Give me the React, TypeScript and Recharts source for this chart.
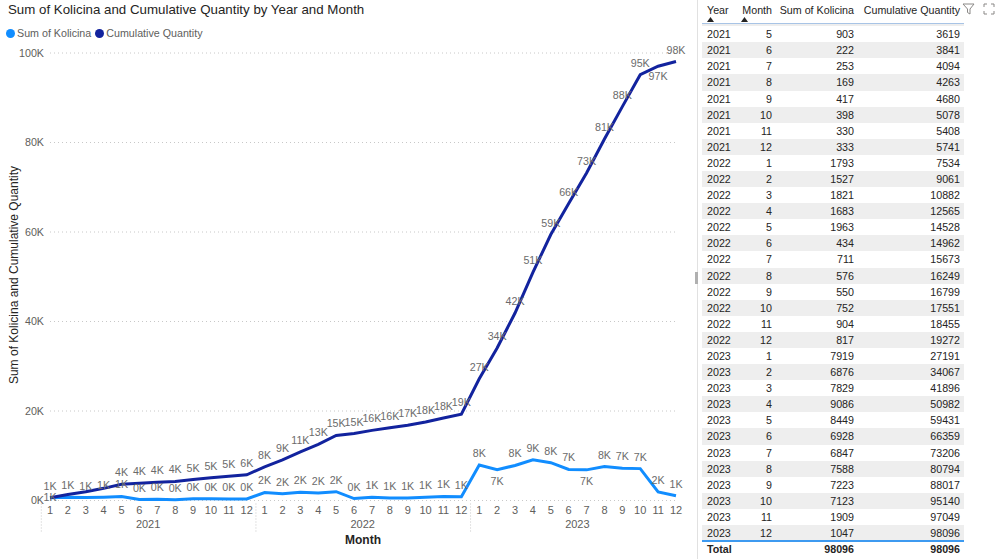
import { CartesianGrid, LabelList, Line, LineChart, XAxis, YAxis } from "recharts";

const years = [2021, 2022, 2023];
const monthNumbers = [1, 2, 3, 4, 5, 6, 7, 8, 9, 10, 11, 12];

const kolicina2021 = [620, 700, 650, 746, 903, 222, 253, 169, 417, 398, 330, 333];
const kolicina2022 = [1793, 1527, 1821, 1683, 1963, 434, 711, 576, 550, 752, 904, 817];
const kolicina2023 = [7919, 6876, 7829, 9086, 8449, 6928, 6847, 7588, 7223, 7123, 1909, 1047];

const cumulative2021 = [620, 1320, 1970, 2716, 3619, 3841, 4094, 4263, 4680, 5078, 5408, 5741];
const cumulative2022 = [7534, 9061, 10882, 12565, 14528, 14962, 15673, 16249, 16799, 17551, 18455, 19272];
const cumulative2023 = [27191, 34067, 41896, 50982, 59431, 66359, 73206, 80794, 88017, 95140, 97049, 98096];

const totalKolicina = 98096;
const totalCumulative = 98096;

const yTicks = [0, 20000, 40000, 60000, 80000, 100000];

// which data labels Power BI pushed below / hid because of collisions
const hiddenCumLabels = ["2021-2", "2021-3", "2021-4"];
const cumLabelsBelow = ["2023-11"];
const sumLabelsBelow = ["2023-2", "2023-7"];
const sumLabelsOnPoint = ["2021-1"];

// the table is scrolled: first visible row is 2021-5
const FIRST_TABLE_ROW = 4;

const SUM_COLOR = "#118DFF";
const CUM_COLOR = "#12239E";
const FONT = "'Segoe UI', 'Liberation Sans', Arial, sans-serif";
const SMALL = 10.7;

const CHART_W = 690;
const CHART_H = 559;
const PLOT_LEFT = 50;
const PLOT_RIGHT = 14;
const BAND = (CHART_W - PLOT_LEFT - PLOT_RIGHT) / 36;

const kolicinaByYear = [kolicina2021, kolicina2022, kolicina2023];
const cumulativeByYear = [cumulative2021, cumulative2022, cumulative2023];

const data = years.flatMap((year, yi) =>
  monthNumbers.map((month, mi) => ({
    key: `${year}-${month}`,
    year,
    month,
    kolicina: kolicinaByYear[yi][mi],
    cumulative: cumulativeByYear[yi][mi],
  })),
);

const fmtK = (v: number) => `${Math.round(v / 1000)}K`;

const makeLabel =
  (series: "sum" | "cum") =>
  (props: any) => {
    const { x, y, value, index } = props;
    const key = data[index]?.key;
    if (series === "cum" && hiddenCumLabels.includes(key)) return null;
    let ty = y - 8;
    if (series === "cum" && cumLabelsBelow.includes(key)) ty = y + 14;
    if (series === "sum" && sumLabelsBelow.includes(key)) ty = y + 15;
    if (series === "sum" && sumLabelsOnPoint.includes(key)) ty = y + 3;
    return (
      <text x={x} y={ty} textAnchor="middle" fontSize={SMALL} fill="#6b6b6b">
        {fmtK(value)}
      </text>
    );
  };

const MonthTick = (props: any) => {
  const { x, y, payload } = props;
  const [year, month] = String(payload.value).split("-").map(Number);
  return (
    <g>
      <text x={x} y={y + 13} textAnchor="middle" fontSize={11} fill="#605E5C">
        {month}
      </text>
      {month === 6 && (
        <text x={x + BAND / 2} y={y + 27} textAnchor="middle" fontSize={11} fill="#605E5C">
          {year}
        </text>
      )}
      {month === 1 && (
        <line
          x1={x - BAND / 2}
          x2={x - BAND / 2}
          y1={y + 3}
          y2={y + 31}
          stroke="#c8c8c8"
          strokeDasharray="1 2"
        />
      )}
    </g>
  );
};

const tableRows = data.slice(FIRST_TABLE_ROW);

const ROW_H = 16.09;
const ROWS_TOP = 26.2;

const cellStyle = (right: number, left?: number): React.CSSProperties => ({
  position: "absolute",
  ...(left !== undefined ? { left } : { right }),
  top: 0,
  lineHeight: `${ROW_H}px`,
  whiteSpace: "nowrap",
});

const SortArrow = ({ x }: { x: number }) => (
  <svg style={{ position: "absolute", left: x, top: 17 }} width={7} height={5}>
    <polygon points="0,5 3.5,0 7,5" fill="#252423" />
  </svg>
);

const App = () => {
  return (
    <div
      style={{
        position: "absolute",
        left: 0,
        top: 0,
        width: 999,
        height: 559,
        background: "#fff",
        fontFamily: FONT,
        overflow: "hidden",
      }}
    >
      <div style={{ position: "absolute", left: 8, top: 2, fontSize: 13.3, color: "#252423", whiteSpace: "nowrap" }}>
        Sum of Kolicina and Cumulative Quantity by Year and Month
      </div>
      <div
        style={{
          position: "absolute",
          left: 6,
          top: 27,
          fontSize: SMALL,
          color: "#605E5C",
          display: "flex",
          alignItems: "center",
          whiteSpace: "nowrap",
        }}
      >
        <span style={{ width: 9, height: 9, borderRadius: 5, background: SUM_COLOR, marginRight: 2 }} />
        <span style={{ marginRight: 4 }}>Sum of Kolicina</span>
        <span style={{ width: 9, height: 9, borderRadius: 5, background: CUM_COLOR, marginRight: 2 }} />
        <span>Cumulative Quantity</span>
      </div>

      <div style={{ position: "absolute", left: 0, top: 0 }}>
        <LineChart
          width={CHART_W}
          height={CHART_H}
          data={data}
          margin={{ top: 53, right: PLOT_RIGHT, bottom: 0, left: 0 }}
        >
          <CartesianGrid vertical={false} stroke="#c8c8c8" strokeDasharray="1 3" />
          <XAxis
            dataKey="key"
            type="category"
            interval={0}
            tickLine={false}
            axisLine={false}
            tickSize={0}
            tickMargin={0}
            height={58.5}
            tick={<MonthTick />}
          />
          <YAxis
            width={PLOT_LEFT}
            domain={[0, 100000]}
            ticks={yTicks}
            tickFormatter={fmtK}
            tickLine={false}
            axisLine={false}
            tickSize={0}
            tickMargin={6}
            tick={{ fill: "#605E5C", fontSize: SMALL }}
          />
          <Line
            dataKey="kolicina"
            stroke={SUM_COLOR}
            strokeWidth={3}
            dot={false}
            activeDot={false}
            isAnimationActive={false}
          >
            <LabelList dataKey="kolicina" content={makeLabel("sum")} />
          </Line>
          <Line
            dataKey="cumulative"
            stroke={CUM_COLOR}
            strokeWidth={3}
            dot={false}
            activeDot={false}
            isAnimationActive={false}
          >
            <LabelList dataKey="cumulative" content={makeLabel("cum")} />
          </Line>
        </LineChart>
      </div>

      <div
        style={{
          position: "absolute",
          left: 14,
          top: 275,
          transform: "translate(-50%, -50%) rotate(-90deg)",
          fontSize: 12,
          color: "#252423",
          whiteSpace: "nowrap",
        }}
      >
        Sum of Kolicina and Cumulative Quantity
      </div>
      <div
        style={{
          position: "absolute",
          left: 363,
          top: 540,
          transform: "translate(-50%, -50%)",
          fontSize: 12,
          fontWeight: 700,
          color: "#252423",
        }}
      >
        Month
      </div>

      {/* divider between visuals */}
      <div style={{ position: "absolute", left: 697, top: 0, width: 1, height: 559, background: "#e1e1e1" }} />
      <div style={{ position: "absolute", left: 695, top: 272, width: 3, height: 12, background: "#b0b0b0" }} />

      {/* table visual */}
      <div style={{ position: "absolute", left: 702, top: 0, width: 262, height: 559, fontSize: SMALL, color: "#252423" }}>
        <span style={{ ...cellStyle(0, 5), top: 2 }}>Year</span>
        <span style={{ ...cellStyle(192), top: 2 }}>Month</span>
        <span style={{ ...cellStyle(110), top: 2 }}>Sum of Kolicina</span>
        <span style={{ ...cellStyle(4), top: 2 }}>Cumulative Quantity</span>
        <SortArrow x={5} />
        <SortArrow x={39} />
        <div style={{ position: "absolute", left: 0, top: 23, width: 262, height: 1, background: "#a8c4e6" }} />
        {/* sliver of the scrolled-away row */}
        <div style={{ position: "absolute", left: 0, top: 24, width: 262, height: 2.2, background: "#eeeeee" }} />
        {tableRows.map((r, i) => (
          <div
            key={r.key}
            style={{
              position: "absolute",
              left: 0,
              top: ROWS_TOP + i * ROW_H,
              width: 262,
              height: ROW_H,
              background: i % 2 === 1 ? "#eeeeee" : "#ffffff",
            }}
          >
            <span style={cellStyle(0, 5)}>{r.year}</span>
            <span style={cellStyle(192)}>{r.month}</span>
            <span style={cellStyle(110)}>{r.kolicina}</span>
            <span style={cellStyle(4)}>{r.cumulative}</span>
          </div>
        ))}
        <div style={{ position: "absolute", left: 0, top: 540, width: 262, height: 1.5, background: "#3d9af0" }} />
        <div style={{ position: "absolute", left: 0, top: 541, width: 262, height: 16, fontWeight: 700 }}>
          <span style={cellStyle(0, 5)}>Total</span>
          <span style={cellStyle(110)}>{totalKolicina}</span>
          <span style={cellStyle(4)}>{totalCumulative}</span>
        </div>
      </div>

      {/* header icons */}
      <svg style={{ position: "absolute", left: 962, top: 2 }} width={14} height={14}>
        <path d="M1 2 H12 L8 7 V12 L5.5 10.5 V7 Z" fill="none" stroke="#8a8886" strokeWidth={1} />
      </svg>
      <svg style={{ position: "absolute", left: 982, top: 2 }} width={14} height={14}>
        <path d="M2 5 V2 H5 M9 2 H12 V5 M12 9 V12 H9 M5 12 H2 V9" fill="none" stroke="#8a8886" strokeWidth={1} />
      </svg>
    </div>
  );
};

export default App;
